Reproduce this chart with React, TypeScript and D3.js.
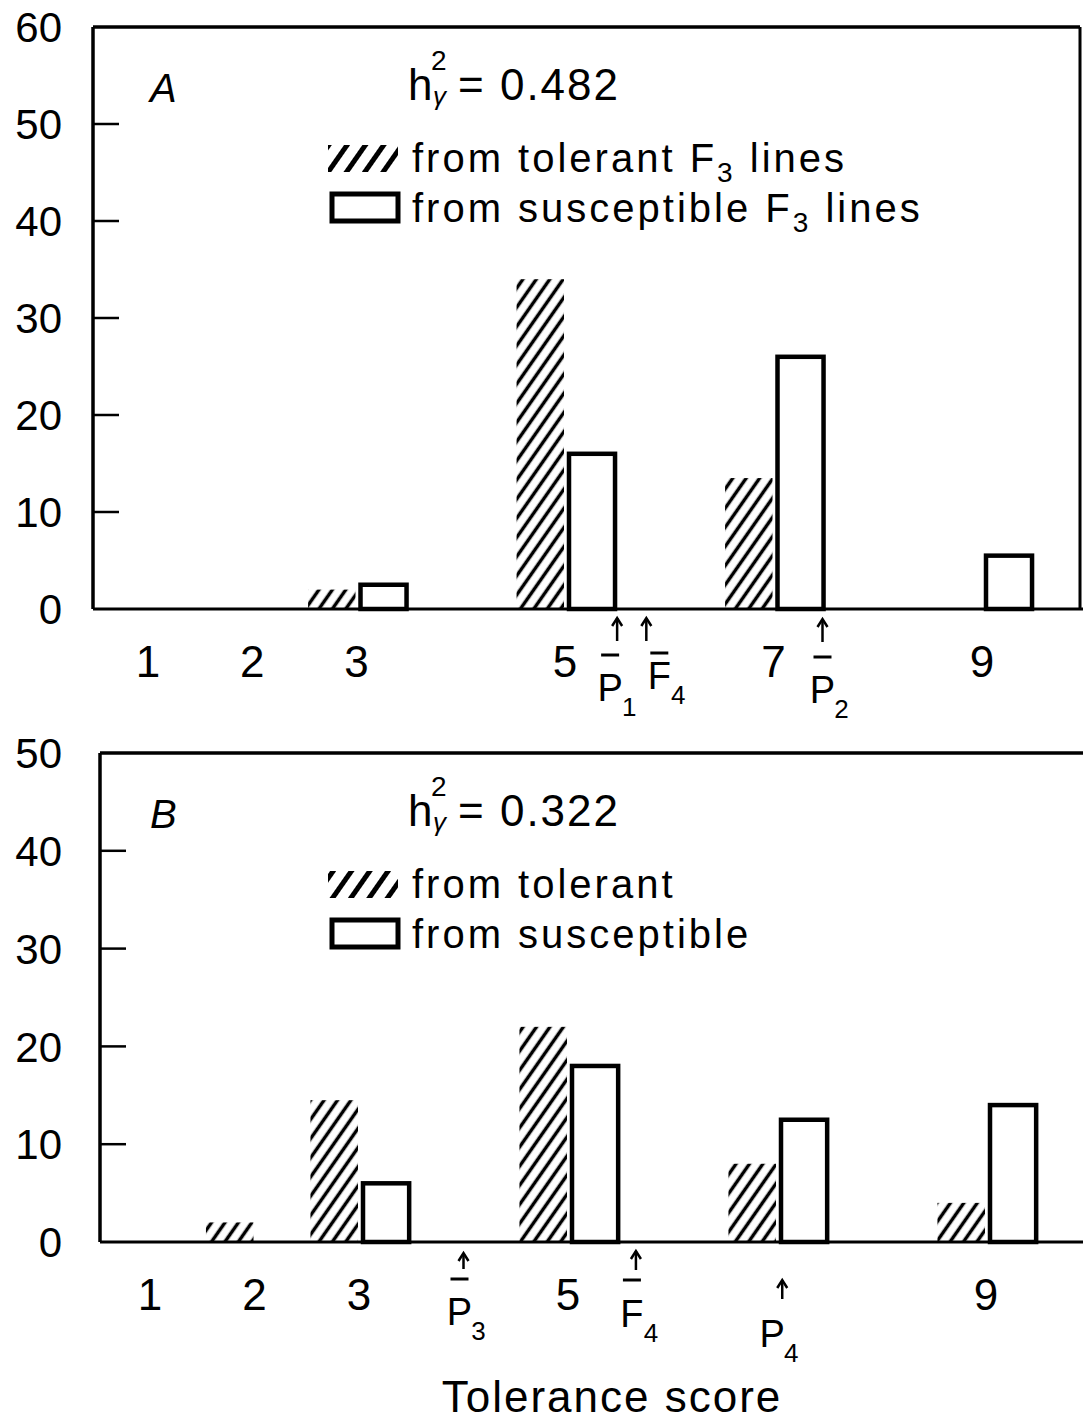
import React from "react"
import * as d3 from "d3"

// tolerance scores on the x axis
const scores = [1, 2, 3, 4, 5, 6, 7, 8, 9]

// panel A: number of lines per score
const tolerantA = [0, 0, 2, 0, 34, 0, 13.5, 0, 0]
const susceptibleA = [0, 0, 2.5, 0, 16, 0, 26, 0, 5.5]

// panel B
const tolerantB = [0, 2, 14.5, 0, 22, 0, 8, 0, 4]
const susceptibleB = [0, 0, 6, 0, 18, 0, 12.5, 0, 14]

const xLabelsA = [1, 2, 3, 5, 7, 9]
const xLabelsB = [1, 2, 3, 5, 9]
const yTicksA = [0, 10, 20, 30, 40, 50, 60]
const yTicksB = [0, 10, 20, 30, 40, 50]

// parental / F4 means marked with arrows below the axis
const markersA = [
  { letter: "P", sub: "1", score: 5.5, bar: true },
  { letter: "F", sub: "4", score: 5.78, bar: true },
  { letter: "P", sub: "2", score: 7.47, bar: true },
]
const markersB = [
  { letter: "P", sub: "3", score: 4.0, bar: true },
  { letter: "F", sub: "4", score: 5.65, bar: true },
  { letter: "P", sub: "4", score: 7.05, bar: false },
]

const heritA = "0.482"
const heritB = "0.322"
const legendA = [
  { text: "from tolerant F", sub: "3", after: " lines" },
  { text: "from susceptible F", sub: "3", after: " lines" },
]
const legendB = [
  { text: "from tolerant", sub: "", after: "" },
  { text: "from susceptible", sub: "", after: "" },
]

const FONT = "'Liberation Sans', Arial, sans-serif"

type Marker = { letter: string; sub: string; score: number; bar: boolean }
type Leg = { text: string; sub: string; after: string }

// per marker: arrow top/bottom, overline y, label baseline (from the axis line), label shift in x
type MarkLayout = { a1: number; a2: number; ob: number; lb: number; dx: number }

const Panel = (props: {
  tag: string
  tolerant: number[]
  susceptible: number[]
  xLabels: number[]
  yTicks: number[]
  markers: Marker[]
  markLayout: MarkLayout[]
  herit: string
  legend: Leg[]
  left: number
  right: number
  top: number
  bottom: number
  xr: [number, number]
  rightBorder: boolean
}) => {
  const { left, right, top, bottom } = props
  const yMax = d3.max(props.yTicks) as number
  const x = d3.scaleLinear().domain([1, 9]).range(props.xr)
  const y = d3.scaleLinear().domain([0, yMax]).range([bottom, top])
  const unit = x(2) - x(1)
  const hw = unit * 0.455
  const ow = unit * 0.48

  return (
    <g>
      {/* bars */}
      {scores.map((s, i) =>
        props.tolerant[i] > 0 ? (
          <rect
            key={"t" + s}
            x={x(s) - hw - 1}
            y={y(props.tolerant[i])}
            width={hw}
            height={y(0) - y(props.tolerant[i])}
            fill="url(#hatch)"
          />
        ) : null
      )}
      {scores.map((s, i) =>
        props.susceptible[i] > 0 ? (
          <rect
            key={"s" + s}
            x={x(s) + 4}
            y={y(props.susceptible[i])}
            width={ow - 4}
            height={y(0) - y(props.susceptible[i])}
            fill="#fff"
            stroke="#000"
            strokeWidth={4.5}
          />
        ) : null
      )}

      {/* frame */}
      <line x1={left} x2={1083} y1={bottom} y2={bottom} stroke="#000" strokeWidth={3} />
      <line x1={left} x2={left} y1={top} y2={bottom} stroke="#000" strokeWidth={3.5} />
      <line x1={left} x2={props.rightBorder ? right : 1083} y1={top} y2={top} stroke="#000" strokeWidth={3.5} />
      {props.rightBorder && (
        <line x1={right} x2={right} y1={top} y2={bottom} stroke="#000" strokeWidth={3} />
      )}

      {/* y axis */}
      {props.yTicks.map(t => (
        <g key={t}>
          {t > 0 && t < yMax && (
            <line x1={left} x2={left + 26} y1={y(t)} y2={y(t)} stroke="#000" strokeWidth={2.5} />
          )}
          <text x={62} y={y(t)} dy="0.36em" textAnchor="end" fontSize={42}>
            {t}
          </text>
        </g>
      ))}

      {/* x labels */}
      {props.xLabels.map(v => (
        <text key={v} x={x(v)} y={bottom + 68} textAnchor="middle" fontSize={44}>
          {v}
        </text>
      ))}

      {/* means */}
      {props.markers.map((m, i) => {
        const L = props.markLayout[i]
        const mx = x(m.score)
        return (
          <g key={i} transform={`translate(${mx},${bottom})`}>
            <line x1={0} x2={0} y1={L.a1} y2={L.a2} stroke="#000" strokeWidth={2.5} />
            <path d={`M-5,${L.a1 + 8}L0,${L.a1}L5,${L.a1 + 8}`} fill="none" stroke="#000" strokeWidth={2.5} />
            {m.bar && <line x1={L.dx - 9} x2={L.dx + 9} y1={L.ob} y2={L.ob} stroke="#000" strokeWidth={3} />}
            <text x={L.dx} y={L.lb} textAnchor="middle" fontSize={38}>
              {m.letter}
            </text>
            <text x={L.dx + 19} y={L.lb + 15} textAnchor="middle" fontSize={26}>
              {m.sub}
            </text>
          </g>
        )
      })}

      {/* panel letter */}
      <text x={150} y={top + 75} fontSize={40} fontStyle="italic">
        {props.tag}
      </text>

      {/* heritability */}
      <text x={408} y={top + 73} fontSize={44}>h</text>
      <text x={431} y={top + 43} fontSize={28}>2</text>
      <text x={433} y={top + 78} fontSize={26} fontStyle="italic">γ</text>
      <text x={458} y={top + 73} fontSize={44} letterSpacing={2}>
        {"= " + props.herit}
      </text>

      {/* legend */}
      <rect x={328} y={top + 118} width={70} height={27} fill="url(#hatchLeg)" />
      <rect x={332} y={top + 167} width={66} height={27} fill="#fff" stroke="#000" strokeWidth={5} />
      {props.legend.map((l, i) => (
        <text key={i} x={412} y={top + 145 + i * 50} fontSize={40} letterSpacing={3}>
          {l.text}
          {l.sub && (
            <tspan fontSize={28} dy={10}>
              {l.sub}
            </tspan>
          )}
          {l.after && <tspan dy={l.sub ? -10 : 0}>{l.after}</tspan>}
        </text>
      ))}
    </g>
  )
}

const App = () => {
  return (
    <svg
      width={1083}
      height={1423}
      style={{ position: "absolute", left: 0, top: 0, background: "#fff" }}
      fontFamily={FONT}
    >
      <defs>
        <pattern id="hatch" patternUnits="userSpaceOnUse" width={11} height={11} patternTransform="rotate(35)">
          <line x1={5.5} y1={-1} x2={5.5} y2={12} stroke="#000" strokeWidth={3.5} />
        </pattern>
        <pattern id="hatchLeg" patternUnits="userSpaceOnUse" width={15} height={15} patternTransform="rotate(35)">
          <line x1={7.5} y1={-1} x2={7.5} y2={16} stroke="#000" strokeWidth={5} />
        </pattern>
      </defs>
      <rect width={1083} height={1423} fill="#fff" />
      <Panel
        tag="A"
        tolerant={tolerantA}
        susceptible={susceptibleA}
        xLabels={xLabelsA}
        yTicks={yTicksA}
        markers={markersA}
        markLayout={[
          { a1: 9, a2: 32, ob: 46, lb: 92, dx: -7 },
          { a1: 9, a2: 32, ob: 44, lb: 80, dx: 13 },
          { a1: 10, a2: 33, ob: 48, lb: 94, dx: 0 },
        ]}
        herit={heritA}
        legend={legendA}
        left={93}
        right={1080}
        top={27}
        bottom={609}
        xr={[148, 982]}
        rightBorder={true}
      />
      <Panel
        tag="B"
        tolerant={tolerantB}
        susceptible={susceptibleB}
        xLabels={xLabelsB}
        yTicks={yTicksB}
        markers={markersB}
        markLayout={[
          { a1: 11, a2: 27, ob: 37, lb: 83, dx: -4 },
          { a1: 9, a2: 28, ob: 38, lb: 85, dx: -4 },
          { a1: 38, a2: 57, ob: 0, lb: 105, dx: -10 },
        ]}
        herit={heritB}
        legend={legendB}
        left={100}
        right={1083}
        top={753}
        bottom={1242}
        xr={[150, 986]}
        rightBorder={false}
      />
      <text x={612} y={1412} textAnchor="middle" fontSize={44} letterSpacing={2}>
        Tolerance score
      </text>
    </svg>
  )
}

export default App
